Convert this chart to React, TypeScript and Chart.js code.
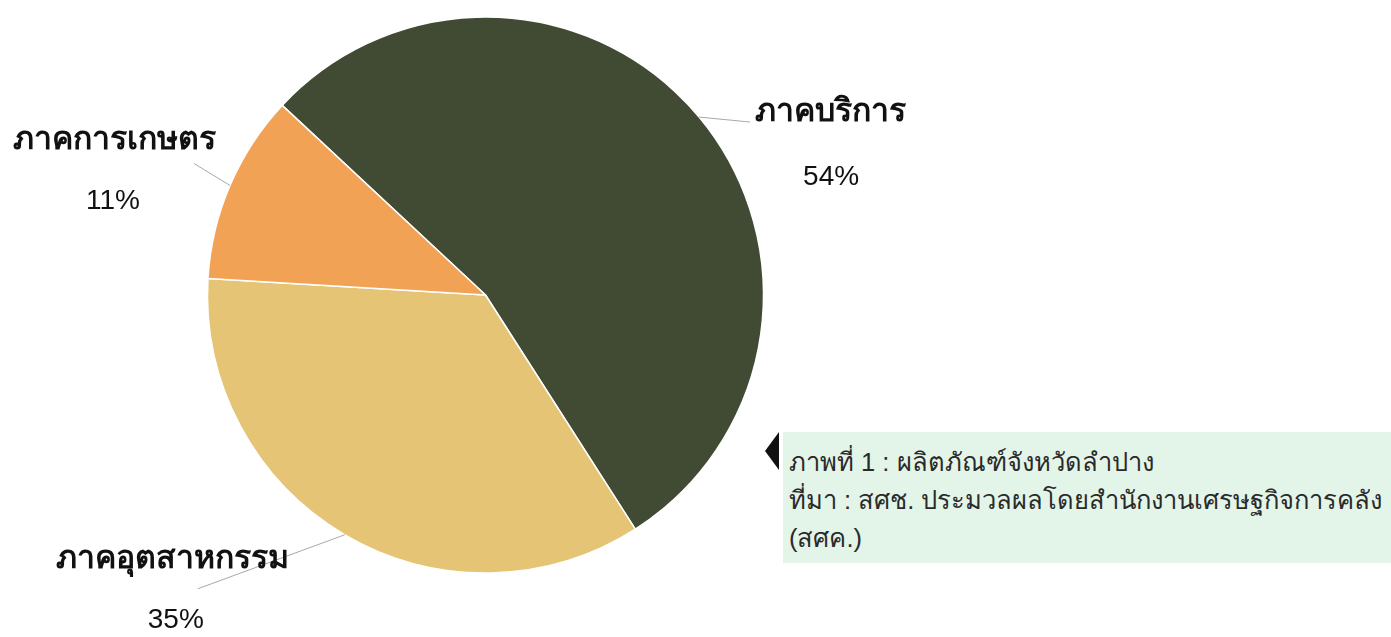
import React, { useEffect, useRef } from "react";
import { Chart, registerables } from "chart.js";

Chart.register(...registerables);

const categories = ["ภาคบริการ", "ภาคอุตสาหกรรม", "ภาคการเกษตร"];
const shares = [54, 35, 11];
const percentLabels = ["54%", "35%", "11%"];
const sliceColors = ["#414b33", "#e6c475", "#f2a254"];

const captionLines = [
  "ภาพที่ 1 : ผลิตภัณฑ์จังหวัดลำปาง",
  "ที่มา : สศช. ประมวลผลโดยสำนักงานเศรษฐกิจการคลัง",
  "(สศค.)",
];

// label layout relative to the slice's outer-mid point
const labelLayout = [
  { line: [51, 5], name: [56, -5], nameAlign: "left", pct: [132, 60] },
  { line: [-147, 54], name: [-172, 24], nameAlign: "center", pct: [-169, 86] },
  { line: [-36, -22], name: [-115, -45], nameAlign: "center", pct: [-117, 16] },
];

const FONT = "'Liberation Sans', 'Noto Sans', Arial, sans-serif";

const labelPlugin = {
  id: "outLabels",
  afterDatasetsDraw(chart: any) {
    const ctx = chart.ctx;
    const meta = chart.getDatasetMeta(0);
    meta.data.forEach((arc: any, i: number) => {
      const { x, y, startAngle, endAngle, outerRadius } = arc.getProps(
        ["x", "y", "startAngle", "endAngle", "outerRadius"],
        true
      );
      const mid = (startAngle + endAngle) / 2;
      const ex = x + Math.cos(mid) * outerRadius;
      const ey = y + Math.sin(mid) * outerRadius;
      const L = labelLayout[i];
      ctx.save();
      ctx.strokeStyle = "#a8a8a8";
      ctx.lineWidth = 1;
      ctx.beginPath();
      ctx.moveTo(ex, ey);
      ctx.lineTo(ex + L.line[0], ey + L.line[1]);
      ctx.stroke();
      ctx.fillStyle = "#111";
      ctx.textBaseline = "middle";
      ctx.font = `bold 32px ${FONT}`;
      ctx.textAlign = L.nameAlign;
      ctx.fillText(categories[i], ex + L.name[0], ey + L.name[1]);
      ctx.font = `28px ${FONT}`;
      ctx.textAlign = "center";
      ctx.fillText(percentLabels[i], ex + L.pct[0], ey + L.pct[1]);
      ctx.restore();
    });
  },
};

export default function App() {
  const ref = useRef<HTMLCanvasElement>(null);
  useEffect(() => {
    const chart = new Chart(ref.current!, {
      type: "pie",
      data: {
        labels: categories,
        datasets: [
          {
            data: shares,
            backgroundColor: sliceColors,
            borderColor: "#ffffff",
            borderWidth: 1.5,
          },
        ],
      },
      options: {
        responsive: false,
        animation: false,
        rotation: -47,
        radius: 278,
        layout: { padding: { left: 0, top: 0, right: 420, bottom: 47 } },
        plugins: {
          legend: { display: false },
          tooltip: { enabled: false },
        },
      },
      plugins: [labelPlugin],
    });
    return () => chart.destroy();
  }, []);

  return (
    <div
      style={{
        position: "fixed",
        left: 0,
        top: 0,
        width: 1391,
        height: 637,
        background: "#fff",
        overflow: "hidden",
      }}
    >
      <canvas ref={ref} width={1391} height={637} style={{ display: "block" }} />
      <div
        style={{
          position: "absolute",
          left: 765,
          top: 432,
          width: 0,
          height: 0,
          borderTop: "19px solid transparent",
          borderBottom: "19px solid transparent",
          borderRight: "14px solid #111",
        }}
      />
      <div
        style={{
          position: "absolute",
          left: 783,
          top: 432,
          width: 608,
          height: 131,
          background: "#e3f4e8",
          boxSizing: "border-box",
          padding: "11px 0 0 6px",
          fontFamily: FONT,
          fontSize: 25.5,
          lineHeight: "38px",
          color: "#2a2a2a",
          whiteSpace: "nowrap",
        }}
      >
        {captionLines.map((t, i) => (
          <div key={i}>{t}</div>
        ))}
      </div>
    </div>
  );
}
